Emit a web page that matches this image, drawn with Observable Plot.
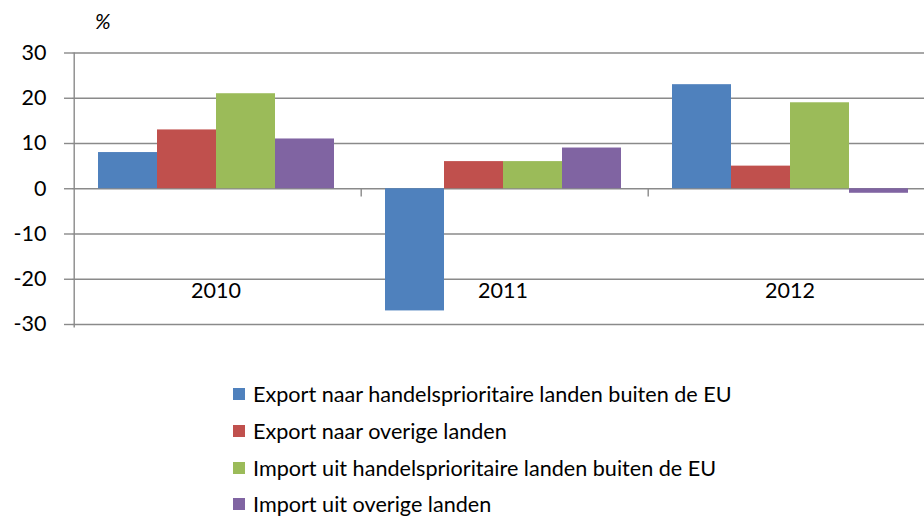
<!DOCTYPE html>
<html>
<head>
<meta charset="utf-8">
<script src="https://cdn.jsdelivr.net/npm/d3@7"></script>
<script src="https://cdn.jsdelivr.net/npm/@observablehq/plot@0.6"></script>
<style>
  html, body { margin: 0; padding: 0; background: #fff; }
  body { width: 924px; height: 517px; overflow: hidden; position: relative; font-family: Lato, "Open Sans", sans-serif; }
  #chart svg { max-width: none !important; }
  #unit { position: absolute; left: 95px; top: 8px; font-size: 21px; font-style: italic; }
  #legend { position: absolute; left: 233px; top: 376px; font-size: 21.6px; color: #000; }
  .row { display: flex; align-items: center; height: 36.7px; }
  .sw { width: 12px; height: 12px; margin-right: 8px; flex: none; }
</style>
</head>
<body>
<div id="unit">%</div>
<div id="chart"></div>
<div id="legend"></div>
<script>
const years = ["2010", "2011", "2012"];
const series = [
  "Export naar handelsprioritaire landen buiten de EU",
  "Export naar overige landen",
  "Import uit handelsprioritaire landen buiten de EU",
  "Import uit overige landen"
];
const colors = ["#4F81BD", "#C0504D", "#9BBB59", "#8064A2"];
const exportPrio = [8, -27, 23];
const exportOther = [13, 6, 5];
const importPrio = [21, 6, 19];
const importOther = [11, 9, -1];
const yTicks = [-30, -20, -10, 0, 10, 20, 30];

const valuesBySeries = [exportPrio, exportOther, importPrio, importOther];
const data = [];
years.forEach((yr, i) => series.forEach((s, j) => data.push({year: yr, series: s, value: valuesBySeries[j][i]})));

// separators: full axis line at 2010, short ticks at the other category boundaries
const separators = years.map((yr, i) => ({year: yr, full: i === 0}));

const chart = Plot.plot({
  width: 934,
  height: 345,
  marginLeft: 71,
  marginRight: 0,
  marginTop: 52.5,
  marginBottom: 21,
  style: {fontFamily: "Lato, 'Open Sans', sans-serif", fontSize: "21.5px", color: "#000", background: "transparent", maxWidth: "none"},
  fx: {domain: years, padding: 0, axis: null},
  x: {domain: series, paddingInner: 0, paddingOuter: 0.396, axis: null},
  y: {domain: [-30, 30], axis: null},
  color: {domain: series, range: colors},
  marks: [
    Plot.ruleY(yTicks, {y: d => d, stroke: "#8a8a8a", strokeWidth: 1.4, strokeOpacity: 1}),
    Plot.axisY({ticks: yTicks, tickSize: 8, tickPadding: 18, stroke: "#8a8a8a", strokeWidth: 1.4, strokeOpacity: 1, fontSize: 21.5, label: null, tickFormat: d => String(d)}),
    Plot.ruleX(separators.filter(d => d.full), {fx: "year", x: () => series[0], y1: -30.8, y2: 30, dx: -53.8, stroke: "#8a8a8a", strokeWidth: 1.4}),
    Plot.ruleX(separators.filter(d => !d.full), {fx: "year", x: () => series[0], y1: 0, y2: -1.8, dx: -53.8, stroke: "#8a8a8a", strokeWidth: 1.4}),
    Plot.barY(data, {fx: "year", x: "series", y: "value", fill: "series", inset: 0}),
    Plot.text(years, {fx: d => d, text: d => d, frameAnchor: "bottom", dy: -27, fontSize: 21.5, fill: "#000"})
  ]
});
document.getElementById("chart").appendChild(chart);

const legend = document.getElementById("legend");
series.forEach((s, j) => {
  const row = document.createElement("div");
  row.className = "row";
  const sw = document.createElement("div");
  sw.className = "sw";
  sw.style.background = colors[j];
  const label = document.createElement("span");
  label.textContent = s;
  row.appendChild(sw);
  row.appendChild(label);
  legend.appendChild(row);
});
</script>
</body>
</html>
